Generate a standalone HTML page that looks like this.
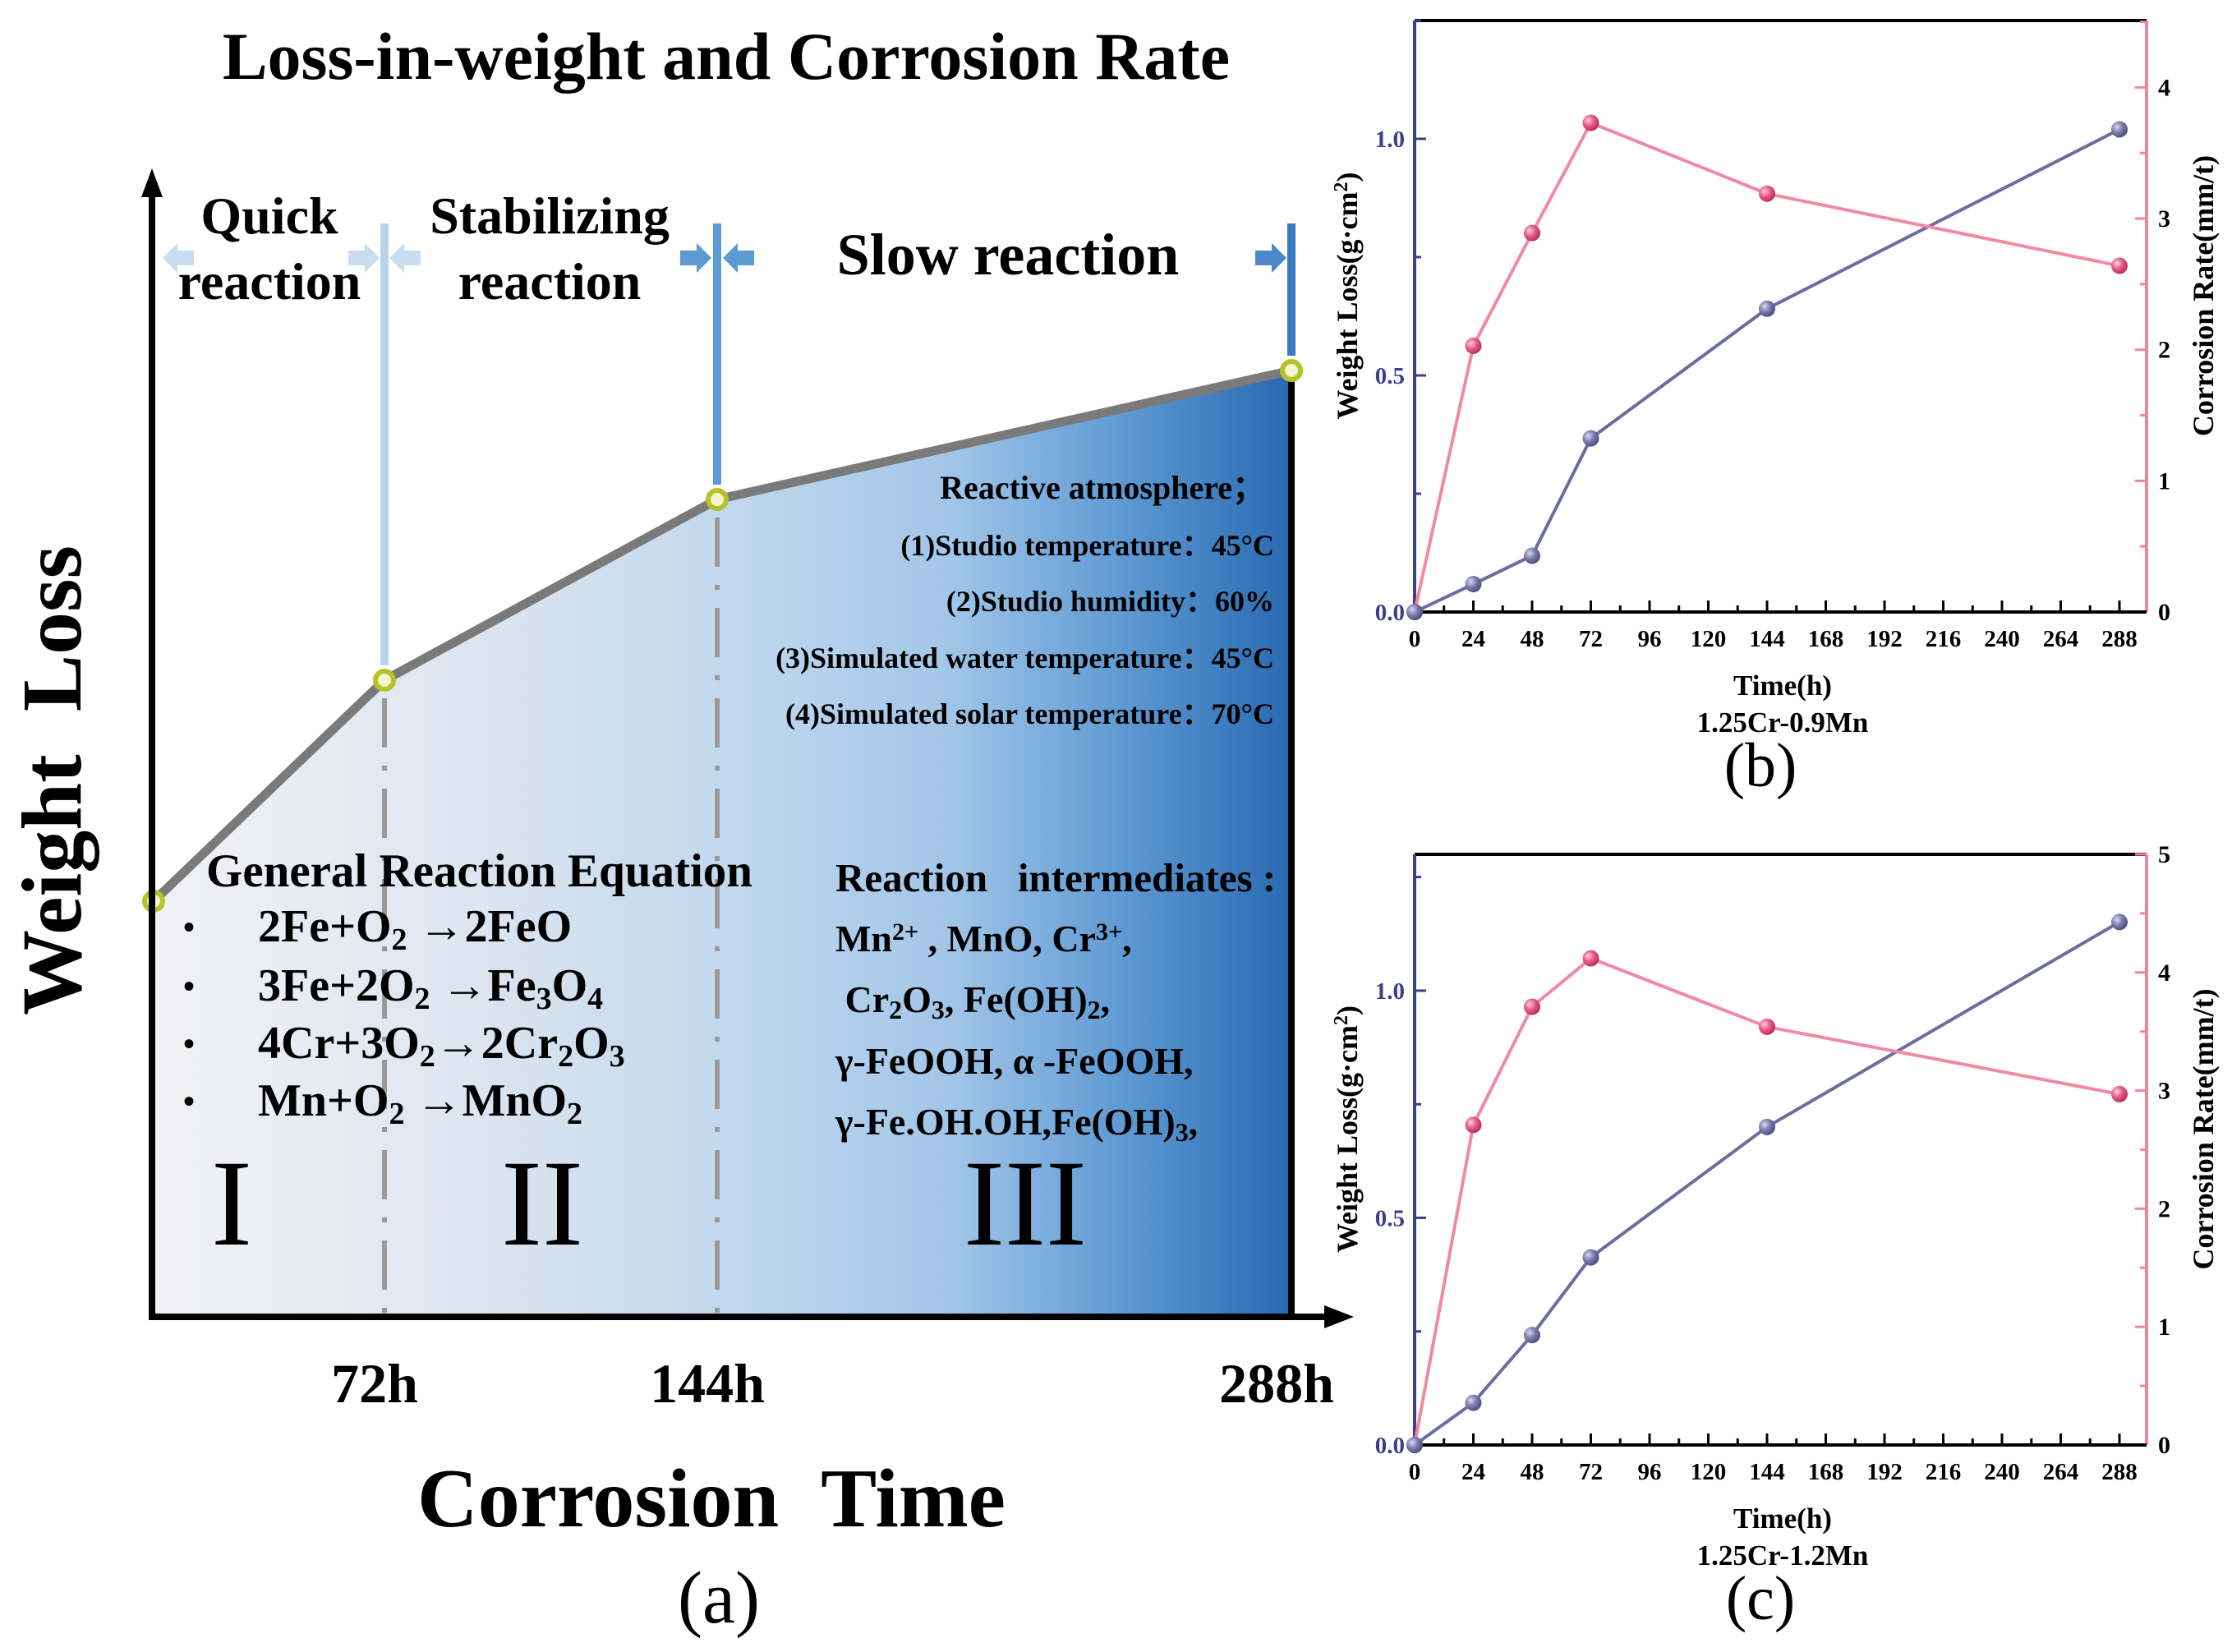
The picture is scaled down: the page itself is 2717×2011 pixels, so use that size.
<!DOCTYPE html>
<html><head><meta charset="utf-8"><style>
html,body{margin:0;padding:0;background:#fff;}
svg{display:block;font-family:"Liberation Serif",serif;}
</style></head><body>
<svg id="fig" width="2717" height="2011" viewBox="0 0 2717 2011" xmlns="http://www.w3.org/2000/svg">
<defs>
<linearGradient id="areaGrad" x1="187" x2="1572" y1="0" y2="0" gradientUnits="userSpaceOnUse">
<stop offset="0" stop-color="#f1f1f3"/><stop offset="0.25" stop-color="#e0e7f0"/><stop offset="0.5" stop-color="#c3d9ee"/><stop offset="0.7" stop-color="#a2c6e8"/><stop offset="0.85" stop-color="#5f9ad3"/><stop offset="1" stop-color="#2869b0"/>
</linearGradient>
<radialGradient id="gPurple" cx="0.35" cy="0.35" r="0.7"><stop offset="0" stop-color="#d8d8ee"/><stop offset="0.5" stop-color="#7b7bad"/><stop offset="1" stop-color="#4a4a80"/></radialGradient>
<radialGradient id="gPink" cx="0.35" cy="0.35" r="0.7"><stop offset="0" stop-color="#fbd0df"/><stop offset="0.5" stop-color="#e8588a"/><stop offset="1" stop-color="#b82a5c"/></radialGradient>
</defs>
<g id="panelA"></g>
<g id="panelB"></g>
<g id="panelC"></g>
</svg>
<script>
// ---------- Panel (a) schematic data ----------
const stageTimes = [0, 72, 144, 288];
const stageWeight = [0.506, 0.775, 0.995, 1.152];
const stageTickLabels = ["72h", "144h", "288h"];
// ---------- Panel (b) data ----------
const timesB = [0, 24, 48, 72, 144, 288];
const weightB = [0, 0.059, 0.119, 0.367, 0.641, 1.02];
const rateB = [0, 2.03, 2.89, 3.73, 3.19, 2.64];
const leftTicksB = ["0.0", "0.5", "1.0"];
const rightTicksB = ["0", "1", "2", "3", "4"];
// ---------- Panel (c) data ----------
const timesC = [0, 24, 48, 72, 144, 288];
const weightC = [0, 0.093, 0.242, 0.413, 0.70, 1.151];
const rateC = [0, 2.71, 3.71, 4.12, 3.54, 2.97];
const leftTicksC = ["0.0", "0.5", "1.0"];
const rightTicksC = ["0", "1", "2", "3", "4", "5"];
const xTickLabels = ["0","24","48","72","96","120","144","168","192","216","240","264","288"];

const NS = "http://www.w3.org/2000/svg";
function mk(parent, tag, attrs, text) {
  const e = document.createElementNS(NS, tag);
  for (const k in attrs) e.setAttribute(k, attrs[k]);
  if (text !== undefined) e.textContent = text;
  parent.appendChild(e);
  return e;
}

// ================= Panel A =================
(function () {
  const g = document.getElementById("panelA");
  const knotT = [0, 72, 144, 288], knotX = [187, 468, 873, 1572];
  function xA(t) {
    for (let i = 0; i < knotT.length - 1; i++) {
      if (t <= knotT[i + 1]) return knotX[i] + (t - knotT[i]) / (knotT[i + 1] - knotT[i]) * (knotX[i + 1] - knotX[i]);
    }
    return knotX[knotX.length - 1];
  }
  const baseY = 1603;
  function yA(v) { return baseY - v * 1000; }

  let t = mk(g, "text", { x: 884, y: 96, "font-size": 82, "font-weight": "bold", "text-anchor": "middle" }, "Loss-in-weight and Corrosion Rate");
  
  

  let d = "M" + xA(stageTimes[0]) + "," + baseY;
  stageTimes.forEach((s, i) => { d += " L" + xA(s) + "," + yA(stageWeight[i]); });
  d += " L" + xA(stageTimes[stageTimes.length - 1]) + "," + baseY + " Z";
  let area = mk(g, "path", { d: d, fill: "url(#areaGrad)" });
  
  

  const lineCols = ["#b8d4ec", "#5b9ad3", "#3a7cc3"];
  for (let i = 1; i < stageTimes.length; i++) {
    const x = xA(stageTimes[i]);
    const top = 272;
    const bot = yA(stageWeight[i]) - 18;
    let l = mk(g, "line", { x1: x, x2: x, y1: top, y2: bot, stroke: lineCols[i - 1], "stroke-width": 10 });
    
    
    if (i < stageTimes.length - 1) {
      let dl = mk(g, "line", { x1: x, x2: x, y1: yA(stageWeight[i]) + 22, y2: baseY, stroke: "#9a9a9a", "stroke-width": 6, "stroke-dasharray": "60 22 6 22" });
      
      
    }
  }
  let rb = mk(g, "line", { x1: 1572, x2: 1572, y1: yA(stageWeight[3]), y2: baseY, stroke: "#000", "stroke-width": 8 });
  
  

  function arrow(x, y, dir, col) {
    const w = 38, h = 36, sh = 18;
    const p = [[x, y], [x - dir * 18, y - h / 2], [x - dir * 18, y - sh / 2], [x - dir * w, y - sh / 2], [x - dir * w, y + sh / 2], [x - dir * 18, y + sh / 2], [x - dir * 18, y + h / 2]];
    let a = mk(g, "polygon", { points: p.map(q => q.join(",")).join(" "), fill: col });
    
    
  }
  arrow(198, 314, -1, "#c9ddf0");
  arrow(462, 314, 1, "#c9ddf0");
  arrow(474, 314, -1, "#c9ddf0");
  arrow(866, 314, 1, "#5b9ad3");
  arrow(880, 314, -1, "#5b9ad3");
  arrow(1566, 314, 1, "#4a88c9");

  let pts = stageTimes.map((s, i) => xA(s) + "," + yA(stageWeight[i])).join(" ");
  let cv = mk(g, "polyline", { points: pts, fill: "none", stroke: "#7a7a7a", "stroke-width": 11, "stroke-linejoin": "round" });
  
  
  stageTimes.forEach((s, i) => {
    let c = mk(g, "circle", { cx: xA(s), cy: yA(stageWeight[i]), r: 11, fill: "#f4f4d0", stroke: "#b5c228", "stroke-width": 6 });
    
    
  });

  let ya = mk(g, "line", { x1: 185, x2: 185, y1: 230, y2: 1607, stroke: "#000", "stroke-width": 8 });
  
  
  let yah = mk(g, "polygon", { points: "185,205 172,240 198,240", fill: "#000" });
  
  
  let xa = mk(g, "line", { x1: 181, x2: 1620, y1: 1603, y2: 1603, stroke: "#000", "stroke-width": 8 });
  
  
  let xah = mk(g, "polygon", { points: "1648,1603 1612,1589 1612,1617", fill: "#000" });
  
  

  stageTickLabels.forEach((lab, i) => {
    let tt = mk(g, "text", { x: xA(stageTimes[i + 1]) + (i === 2 ? -18 : -12), y: 1707, "font-size": 68, "font-weight": "bold", "text-anchor": "middle" }, lab);
    
    
  });

  const texts = [
    ["Quick", 328, 284, 64, "middle", "stage-label"],
    ["reaction", 328, 364, 64, "middle", "stage-label"],
    ["Stabilizing", 669, 284, 64, "middle", "stage-label"],
    ["reaction", 669, 364, 64, "middle", "stage-label"],
    ["Slow reaction", 1227, 334, 72, "middle", "stage-label"],
    ["Corrosion\u00a0\u00a0Time", 866, 1858, 102, "middle", "x-axis-title"],
    ["Reactive atmosphere；", 1540, 607, 40, "end", "atmosphere-title"],
    ["(1)Studio temperature：45°C", 1551, 676, 36, "end", "atmosphere-item"],
    ["(2)Studio humidity：60%", 1551, 744, 36, "end", "atmosphere-item"],
    ["(3)Simulated water temperature：45°C", 1551, 813, 36, "end", "atmosphere-item"],
    ["(4)Simulated solar temperature：70°C", 1551, 881, 36, "end", "atmosphere-item"],
    ["General Reaction Equation", 251, 1079, 57, "start", "equation-title"],
    ["Reaction\u00a0\u00a0\u00a0intermediates :", 1017, 1085, 49, "start", "intermediates-title"]
  ];
  texts.forEach(a => {
    let tt = mk(g, "text", { x: a[1], y: a[2], "font-size": a[3], "font-weight": "bold", "text-anchor": a[4] }, a[0]);
    
    
  });

  let yt = mk(g, "text", { x: 0, y: 0, "font-size": 104, "font-weight": "bold", "text-anchor": "middle", transform: "translate(98,950) rotate(-90)" }, "Weight\u00a0\u00a0Loss");
  
  

  let pa = mk(g, "text", { x: 875, y: 1975, "font-size": 90, "text-anchor": "middle" }, "(a)");
  
  

  const sb = 'dy="10" font-size="38"', su = 'dy="-10"';
  const eqs = [
    '2Fe+O<tspan ' + sb + '>2</tspan><tspan ' + su + '> →2FeO</tspan>',
    '3Fe+2O<tspan ' + sb + '>2</tspan><tspan ' + su + '> →Fe</tspan><tspan ' + sb + '>3</tspan><tspan ' + su + '>O</tspan><tspan ' + sb + '>4</tspan>',
    '4Cr+3O<tspan ' + sb + '>2</tspan><tspan ' + su + '>→2Cr</tspan><tspan ' + sb + '>2</tspan><tspan ' + su + '>O</tspan><tspan ' + sb + '>3</tspan>',
    'Mn+O<tspan ' + sb + '>2</tspan><tspan ' + su + '> →MnO</tspan><tspan ' + sb + '>2</tspan>'
  ];
  const eqY = [1146, 1218, 1288, 1358];
  eqs.forEach((h, i) => {
    let b = mk(g, "text", { x: 230, y: eqY[i] - 4, "font-size": 40, "font-weight": "bold", "text-anchor": "middle" }, "•");
    
    
    let e = mk(g, "text", { x: 314, y: eqY[i], "font-size": 56, "font-weight": "bold" });
    e.innerHTML = h;
    
    
  });
  const isb = 'dy="8" font-size="32"', isu = 'dy="-8"';
  const inter = [
    'Mn<tspan dy="-14" font-size="30">2+</tspan><tspan dy="14"> , MnO, Cr</tspan><tspan dy="-14" font-size="30">3+</tspan><tspan dy="14">,</tspan>',
    '\u00a0Cr<tspan ' + isb + '>2</tspan><tspan ' + isu + '>O</tspan><tspan ' + isb + '>3</tspan><tspan ' + isu + '>, Fe(OH)</tspan><tspan ' + isb + '>2</tspan><tspan ' + isu + '>,</tspan>',
    'γ-FeOOH, α -FeOOH,',
    'γ-Fe.OH.OH,Fe(OH)<tspan ' + isb + '>3</tspan><tspan ' + isu + '>,</tspan>'
  ];
  const inY = [1158, 1232, 1307, 1381];
  inter.forEach((h, i) => {
    let e = mk(g, "text", { x: 1017, y: inY[i], "font-size": 46, "font-weight": "bold" });
    e.innerHTML = h;
    
    
  });
  const romans = [["I", 282], ["II", 660], ["III", 1248]];
  romans.forEach(r => {
    let e = mk(g, "text", { x: r[1], y: 1515, "font-size": 150, "text-anchor": "middle" }, r[0]);
    
    
  });
})();

// ================= Dual axis charts =================
function dualChart(gid, cfg, times, weight, rate, leftTicks, rightTicks) {
  const g = document.getElementById(gid);
  const L = 1722, R = 2613, T = cfg.top, B = cfg.bottom;
  const x0 = 1722, x288 = 2580;
  const xS = t => x0 + t / 288 * (x288 - x0);
  const yL = v => B - v / cfg.leftMax * (B - T);
  const yR = v => B - v / cfg.rightMax * (B - T);
  const navy = "#3d3f8c", pink = "#f1849a";

  let top = mk(g, "line", { x1: L, x2: R, y1: T, y2: T, stroke: "#000", "stroke-width": 4 });
  
  
  let la = mk(g, "line", { x1: L, x2: L, y1: T, y2: B, stroke: navy, "stroke-width": 4 });
  
  
  let ra = mk(g, "line", { x1: R, x2: R, y1: T, y2: B, stroke: pink, "stroke-width": 4 });
  
  

  for (let v = 0; v <= cfg.leftMax + 1e-9; v += 0.25) {
    const major = Math.abs(v * 2 - Math.round(v * 2)) < 1e-9;
    let tk = mk(g, "line", { x1: L, x2: L + (major ? 14 : 8), y1: yL(v), y2: yL(v), stroke: navy, "stroke-width": 3 });
    
    
  }
  leftTicks.forEach(s => {
    let tl = mk(g, "text", { x: L - 12, y: yL(parseFloat(s)) + 10, "font-size": 29, "font-weight": "bold", fill: navy, "text-anchor": "end" }, s);
    
    
  });
  for (let v = 0; v <= cfg.rightMax + 1e-9; v += 0.5) {
    const major = Math.abs(v - Math.round(v)) < 1e-9;
    let tk = mk(g, "line", { x1: R, x2: R - (major ? 14 : 8), y1: yR(v), y2: yR(v), stroke: pink, "stroke-width": 3 });
    
    
  }
  rightTicks.forEach(s => {
    let tl = mk(g, "text", { x: R + 14, y: yR(parseFloat(s)) + 10, "font-size": 30, "font-weight": "bold", fill: "#000" }, s);
    
    
  });
  let xa = mk(g, "line", { x1: L, x2: R, y1: B, y2: B, stroke: "#000", "stroke-width": 4 });
  
  
  for (let h = 12; h <= 288; h += 12) {
    const major = h % 24 === 0;
    let tk = mk(g, "line", { x1: xS(h), x2: xS(h), y1: B, y2: B - (major ? 14 : 8), stroke: "#000", "stroke-width": 3 });
    
    
  }
  xTickLabels.forEach(s => {
    let tl = mk(g, "text", { x: xS(parseFloat(s)), y: B + 42, "font-size": 29, "font-weight": "bold", "text-anchor": "middle" }, s);
    
    
  });

  let wl = mk(g, "polyline", { points: times.map((t, i) => xS(t) + "," + yL(weight[i])).join(" "), fill: "none", stroke: "#6c6ca2", "stroke-width": 4 });
  
  
  let rl = mk(g, "polyline", { points: times.map((t, i) => xS(t) + "," + yR(rate[i])).join(" "), fill: "none", stroke: "#f08aa0", "stroke-width": 4 });
  
  
  times.forEach((t, i) => {
    let c = mk(g, "circle", { cx: xS(t), cy: yR(rate[i]), r: 10, fill: "url(#gPink)" });
    
    
  });
  times.forEach((t, i) => {
    let c = mk(g, "circle", { cx: xS(t), cy: yL(weight[i]), r: 10, fill: "url(#gPurple)" });
    
    
  });

  const cy = (T + B) / 2;
  let lt = mk(g, "text", { x: 0, y: 0, "font-size": 36, "font-weight": "bold", "text-anchor": "middle", transform: "translate(1652," + (cy - 25) + ") rotate(-90)" });
  lt.innerHTML = 'Weight Loss(g·cm<tspan dy="-12" font-size="24">2</tspan><tspan dy="12">)</tspan>';
  
  
  let rt = mk(g, "text", { x: 0, y: 0, "font-size": 36, "font-weight": "bold", "text-anchor": "middle", transform: "translate(2694," + (cy - 25) + ") rotate(-90)" }, "Corrosion Rate(mm/t)");
  
  
  let xt = mk(g, "text", { x: 2170, y: B + 101, "font-size": 35, "font-weight": "bold", "text-anchor": "middle" }, "Time(h)");
  
  
  let st = mk(g, "text", { x: 2170, y: B + 146, "font-size": 35, "font-weight": "bold", "text-anchor": "middle" }, cfg.sample);
  
  
  let pl = mk(g, "text", { x: 2143, y: B + 212, "font-size": 76, "text-anchor": "middle" }, cfg.panel);
  
  
}

dualChart("panelB", { top: 25, bottom: 745, leftMax: 1.25, rightMax: 4.51, sample: "1.25Cr-0.9Mn", panel: "(b)" }, timesB, weightB, rateB, leftTicksB, rightTicksB);
dualChart("panelC", { top: 1040, bottom: 1759, leftMax: 1.30, rightMax: 5, sample: "1.25Cr-1.2Mn", panel: "(c)" }, timesC, weightC, rateC, leftTicksC, rightTicksC);
</script>
</body></html>
